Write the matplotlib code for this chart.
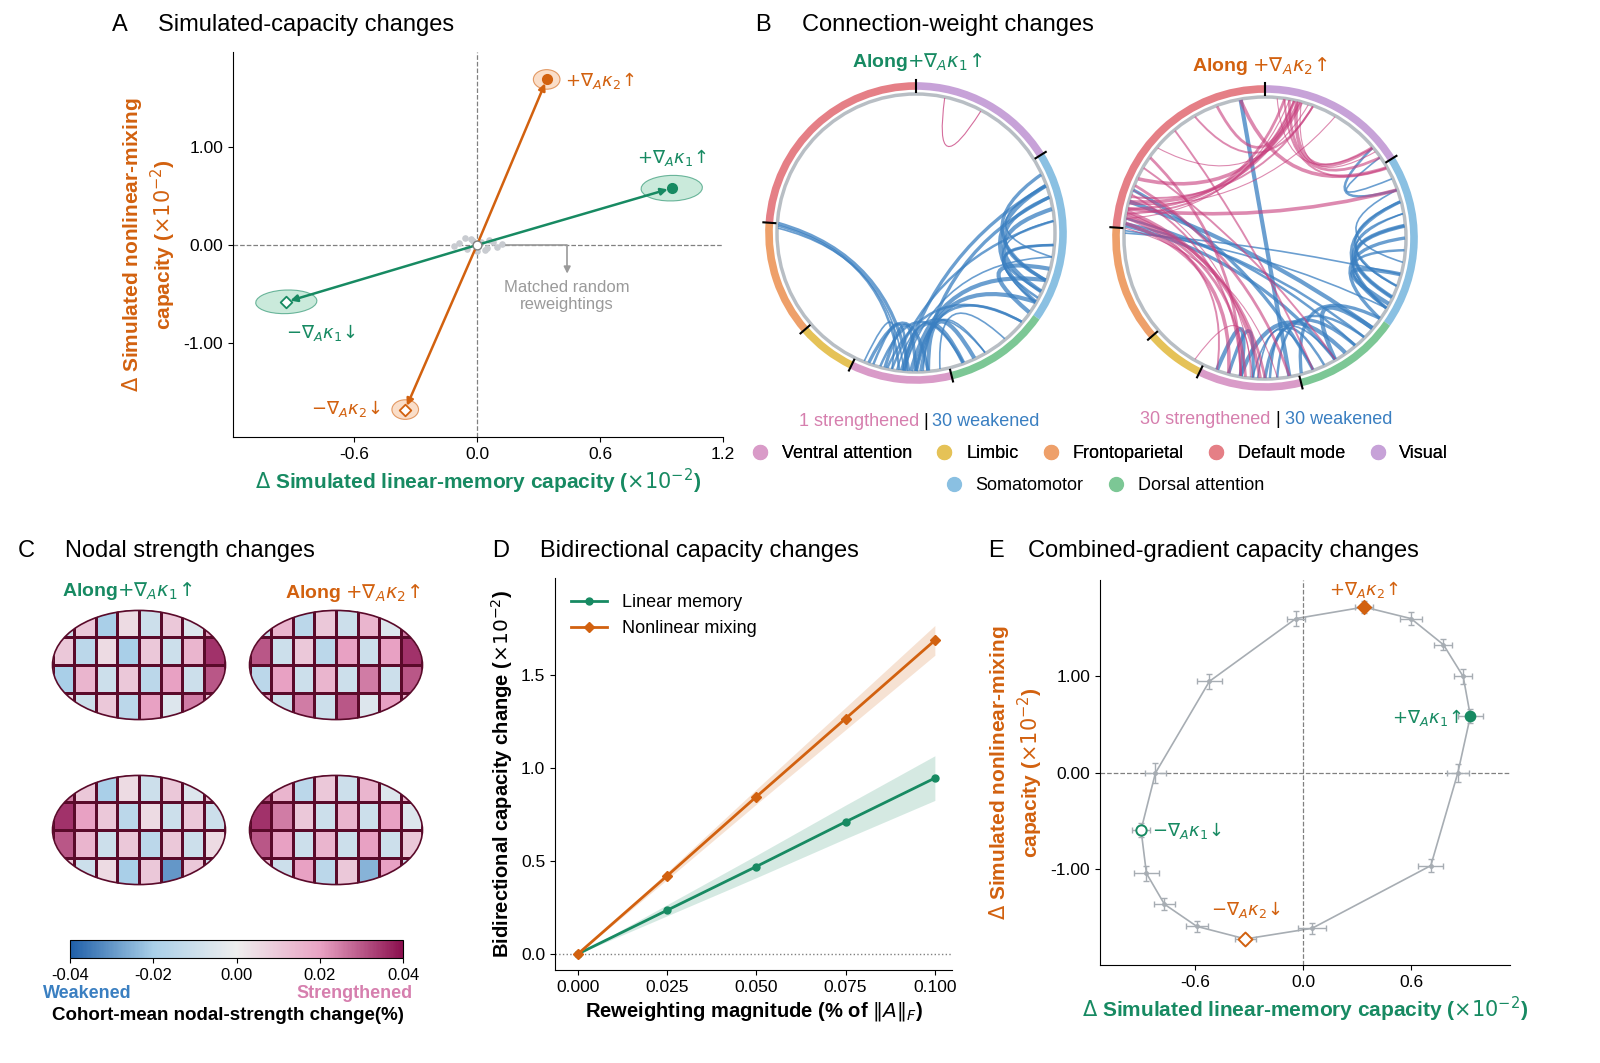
import numpy as np
import matplotlib
matplotlib.use("Agg")
import matplotlib.pyplot as plt
from matplotlib.patches import Ellipse, Arc, PathPatch
from matplotlib.path import Path
from matplotlib.colors import LinearSegmentedColormap
from matplotlib.lines import Line2D

plt.rcParams['font.family'] = ['Liberation Sans', 'DejaVu Sans']
GREEN = '#178a62'; ORANGE = '#d2610f'; GRAY = '#9aa0a6'
PINK = '#d67fae'; BLUE = '#3a7fc1'

# ---------------- data ----------------
A_labels = ['+k1', '-k1', '+k2', '-k2']
A_x = [0.95, -0.93, 0.34, -0.35]
A_y = [0.58, -0.58, 1.69, -1.68]
rand_x = [0.02, -0.05, 0.06, -0.09, 0.1, -0.03, 0.04, -0.11, 0.08, 0.0, -0.06, 0.12, -0.02, 0.05]
rand_y = [0.03, -0.04, 0.05, 0.02, -0.02, 0.06, -0.05, -0.01, 0.03, -0.06, 0.07, 0.01, 0.04, -0.03]

modules = ['Visual', 'Somatomotor', 'Dorsal attention', 'Ventral attention', 'Limbic', 'Frontoparietal', 'Default mode']
mod_colors = ['#c7a2d8', '#8ac0e2', '#7cc795', '#d99bc8', '#e5c257', '#eea06a', '#e57f86']
mod_bounds = [90, 32, -35, -76, -116, -139, -184, -270]

left_weak = [(178,-95),(177,-97),(176,-93),(-92,-20),(-95,-10),(-100,5),(-88,15),(-90,-30),(-98,-60),(-105,-70),
             (-110,-85),(-85,-65),(-80,-50),(-102,-40),(-96,20),(-25,10),(-30,5),(-28,-5),(-20,15),(-15,-35),
             (-10,20),(-5,-25),(25,-20),(20,-30),(-100,-112),(-94,-108),(-90,-103),(-70,-95),(-60,-87),(-40,-90)]
left_strong = [(78,62)]
right_strong = [(172,80),(170,78),(168,82),(165,76),(160,-95),(162,-100),(170,-90),(174,-105),(176,-85),(150,-60),
                (145,-100),(168,20),(166,60),(163,70),(158,-80),(155,75),(140,72),(120,70),(110,78),(100,30),
                (85,40),(82,30),(80,35),(77,40),(75,38),(172,-110),(171,-98),(169,-92),(-120,-96),(130,-70)]
right_weak = [(-20,10),(-25,5),(-30,15),(-15,-28),(-10,20),(-5,-30),(0,-35),(5,-25),(10,-30),(15,-20),
              (-50,-90),(-55,-100),(-60,-95),(-45,-85),(-95,-105),(-100,-110),(-70,-93),(-65,-88),(175,-60),(165,-40),
              (178,-15),(174,-45),(160,-70),(100,-80),(25,35),(20,40),(-35,-75),(-40,-60),(177,-30),(172,-50)]

brain_vals = [
    np.array([[0.005,-0.01,0.01,-0.015,0.02,-0.005,0.025,0.01],
              [-0.02,0.015,-0.01,0.01,-0.015,0.02,-0.01,0.03],
              [0.01,-0.015,0.005,-0.02,0.01,-0.01,0.015,0.035],
              [-0.01,0.01,-0.02,0.005,-0.01,0.01,-0.005,0.02]]),
    np.array([[0.02,-0.01,0.025,-0.01,0.03,-0.005,0.02,0.015],
              [-0.015,0.02,-0.01,0.015,-0.01,0.025,-0.01,0.03],
              [0.03,-0.01,0.01,-0.015,0.02,-0.01,0.02,0.035],
              [-0.01,0.015,-0.015,0.01,-0.01,0.015,-0.005,0.025]]),
    np.array([[0.01,-0.01,0.005,-0.02,0.01,-0.03,0.01,-0.01],
              [0.03,0.015,-0.01,0.01,-0.015,0.01,-0.01,0.005],
              [0.035,0.02,0.01,-0.015,0.005,-0.01,0.01,-0.01],
              [0.025,0.01,-0.02,0.005,-0.01,0.01,-0.005,0.01]]),
    np.array([[0.015,-0.01,0.02,-0.015,0.01,-0.025,0.02,-0.01],
              [0.03,0.02,-0.01,0.015,-0.01,0.02,-0.01,0.01],
              [0.035,0.025,0.01,-0.01,0.015,-0.01,0.02,-0.005],
              [0.03,0.015,-0.015,0.01,-0.01,0.015,-0.005,0.015]])]

D_x = [0, 0.025, 0.05, 0.075, 0.1]
D_lin = [0, 0.235, 0.47, 0.71, 0.945]
D_lin_band = [0, 0.03, 0.06, 0.09, 0.12]
D_non = [0, 0.42, 0.845, 1.265, 1.685]
D_non_band = [0, 0.02, 0.04, 0.06, 0.08]

E_x = [0.34, 0.60, 0.78, 0.89, 0.93, 0.86, 0.71, 0.05, -0.32, -0.59, -0.77, -0.87, -0.90, -0.82, -0.52, -0.04]
E_y = [1.72, 1.60, 1.33, 1.00, 0.59, 0.00, -0.96, -1.61, -1.72, -1.59, -1.36, -1.04, -0.59, 0.00, 0.95, 1.60]
E_xerr = [0.05, 0.06, 0.05, 0.05, 0.07, 0.06, 0.07, 0.08, 0.06, 0.06, 0.06, 0.07, 0.05, 0.06, 0.07, 0.05]
E_yerr = [0.06, 0.07, 0.06, 0.08, 0.07, 0.09, 0.07, 0.06, 0.05, 0.06, 0.06, 0.08, 0.07, 0.1, 0.08, 0.08]

# ---------------- figure ----------------
fig = plt.figure(figsize=(16, 10.63), dpi=100)
def rect(l, t, r, b):
    return [l/1600, 1-b/1063, (r-l)/1600, (b-t)/1063]
def ftext(x, y, s, **kw):
    fig.text(x/1600, 1-y/1063, s, **kw)

# ---- Panel A ----
ax = fig.add_axes(rect(233, 52, 723, 437))
ax.set_xlim(-1.19, 1.2); ax.set_ylim(-1.96, 1.97)
for s in ['top', 'right']: ax.spines[s].set_visible(False)
ax.axhline(0, color='gray', ls='--', lw=0.9); ax.axvline(0, color='gray', ls='--', lw=0.9)
ax.scatter(rand_x, rand_y, s=14, color='#c8cbd0', zorder=2)
cols = [GREEN, GREEN, ORANGE, ORANGE]
fills = ['#a8dcc4', '#a8dcc4', '#f7c8a6', '#f7c8a6']
ells = [(0.3, 0.26, 10), (0.3, 0.24, 10), (0.13, 0.2, 0), (0.13, 0.2, 0)]
for x, y, c, f, e, i in zip(A_x, A_y, cols, fills, ells, range(4)):
    ax.add_patch(Ellipse((x, y), e[0], e[1], angle=e[2], facecolor=f, edgecolor=c, alpha=0.6, lw=0.8, zorder=1))
    ax.annotate('', xy=(x, y), xytext=(0, 0), arrowprops=dict(arrowstyle='-|>', color=c, lw=1.8, mutation_scale=10, shrinkB=3), zorder=3)
    mk = 'o' if i in (0, 2) else 'D'
    ax.scatter([x], [y], marker=mk, s=45 if mk == 'o' else 35, facecolor=c if mk == 'o' else 'white', edgecolor=c, lw=1.3, zorder=4)
ax.scatter([0], [0], s=40, facecolor='white', edgecolor='gray', zorder=5)
ax.text(0.78, 0.84, r'$+\nabla_A\kappa_1\!\uparrow$', color=GREEN, fontsize=13)
ax.text(-0.93, -0.95, r'$-\nabla_A\kappa_1\!\downarrow$', color=GREEN, fontsize=13)
ax.text(0.43, 1.62, r'$+\nabla_A\kappa_2\!\uparrow$', color=ORANGE, fontsize=13)
ax.text(-0.81, -1.73, r'$-\nabla_A\kappa_2\!\downarrow$', color=ORANGE, fontsize=13)
ax.plot([0.14, 0.44, 0.44], [0, 0, -0.25], color='#9a9a9a', lw=1.2)
ax.annotate('', xy=(0.44, -0.32), xytext=(0.44, -0.2), arrowprops=dict(arrowstyle='-|>', color='#9a9a9a', lw=1.2))
ax.text(0.44, -0.52, 'Matched random\nreweightings', color='#9a9a9a', ha='center', va='center', fontsize=12)
ax.set_xticks([-0.6, 0, 0.6, 1.2]); ax.set_xticklabels(['-0.6', '0.0', '0.6', '1.2'])
ax.set_yticks([-1, 0, 1]); ax.set_yticklabels(['-1.00', '0.00', '1.00'])
ax.tick_params(labelsize=12.5)
ax.set_xlabel(r'$\Delta$ Simulated linear-memory capacity ($\times10^{-2}$)', color=GREEN, fontsize=15, fontweight='bold')
ax.set_ylabel('$\\Delta$ Simulated nonlinear-mixing\ncapacity ($\\times10^{-2}$)', color=ORANGE, fontsize=15, fontweight='bold')
ftext(112, 25, 'A', fontsize=17, va='center'); ftext(158, 25, 'Simulated-capacity changes', fontsize=17, va='center')

# ---- Panel B ----
axb = fig.add_axes(rect(740, 60, 1440, 410))
axb.set_xlim(740, 1440); axb.set_ylim(1063-410, 1063-60); axb.set_aspect('equal'); axb.axis('off')
def chord(cx, cy, r, a1, a2, color, lw, alpha):
    t1, t2 = np.radians(a1), np.radians(a2)
    p1 = np.array([cx + r*np.cos(t1), cy + r*np.sin(t1)])
    p2 = np.array([cx + r*np.cos(t2), cy + r*np.sin(t2)])
    mid = (p1 + p2)/2; c = np.array([cx, cy])
    ctrl = c + (mid - c)*0.35
    path = Path([p1, ctrl, p2], [Path.MOVETO, Path.CURVE3, Path.CURVE3])
    axb.add_patch(PathPatch(path, fill=False, edgecolor=color, lw=lw, alpha=alpha))
def wheel(cx, cy, r, weak, strong, salpha):
    axb.add_patch(plt.Circle((cx, 1063-cy), r-6, fill=False, edgecolor='#b8bec4', lw=2.5))
    for k in range(7):
        axb.add_patch(Arc((cx, 1063-cy), 2*r+4, 2*r+4, theta1=mod_bounds[k+1], theta2=mod_bounds[k], color=mod_colors[k], lw=5.5))
        t = np.radians(mod_bounds[k])
        if k != 2:
            axb.plot([cx+(r-4)*np.cos(t), cx+(r+8)*np.cos(t)], [1063-cy+(r-4)*np.sin(t), 1063-cy+(r+8)*np.sin(t)], color='k', lw=1.5)
    for i, (a1, a2) in enumerate(weak):
        chord(cx, 1063-cy, r-7, a1, a2, BLUE, 1.2 + (i % 4)*0.6, 0.75)
    for i, (a1, a2) in enumerate(strong):
        chord(cx, 1063-cy, r-7, a1, a2, '#c73d7c', 0.8 + (i % 4)*0.6, salpha)
wheel(916, 233, 145, left_weak, left_strong, 0.75)
wheel(1265, 238, 147, right_weak, right_strong, 0.6)
ftext(852, 62, r'Along$+\nabla_A\kappa_1\!\uparrow$', color=GREEN, fontsize=14, fontweight='bold', va='center')
ftext(1192, 66, r'Along $+\nabla_A\kappa_2\!\uparrow$', color=ORANGE, fontsize=14, fontweight='bold', va='center')
ftext(919, 421, '1 strengthened', color=PINK, fontsize=13, ha='right', va='center')
ftext(926, 421, '|', fontsize=13, ha='center', va='center')
ftext(932, 421, '30 weakened', color=BLUE, fontsize=13, ha='left', va='center')
ftext(1270, 420, '30 strengthened', color=PINK, fontsize=13, ha='right', va='center')
ftext(1278, 420, '|', fontsize=13, ha='center', va='center')
ftext(1285, 420, '30 weakened', color=BLUE, fontsize=13, ha='left', va='center')
order1 = [3, 4, 5, 6, 0]; order2 = [1, 2]
h1 = [Line2D([], [], marker='o', ls='', color=mod_colors[k], markersize=10) for k in order1]
h2 = [Line2D([], [], marker='o', ls='', color=mod_colors[k], markersize=10) for k in order2]
l1 = fig.legend(h1, [modules[k] for k in order1], loc='center', bbox_to_anchor=(1095/1600, 1-454/1063), ncol=5, frameon=False, fontsize=13, handletextpad=0.2, columnspacing=0.8)
fig.legend(h2, [modules[k] for k in order2], loc='center', bbox_to_anchor=(1100/1600, 1-486/1063), ncol=2, frameon=False, fontsize=13, handletextpad=0.2, columnspacing=0.8)
fig.add_artist(l1)
ftext(755, 25, 'B', fontsize=17, va='center'); ftext(802, 25, 'Connection-weight changes', fontsize=17, va='center')

# ---- Panel C ----
cmap = LinearSegmentedColormap.from_list('nod', ['#1f5fa8', '#a9cfe8', '#eeeeee', '#e9a3c4', '#8b0f4e'])
centers = [(139, 665), (336, 665), (139, 830), (336, 830)]
for (cx, cy), vals in zip(centers, brain_vals):
    axc = fig.add_axes(rect(cx-92, cy-62, cx+92, cy+62))
    axc.set_xlim(0, 1); axc.set_ylim(0, 1); axc.axis('off')
    xs = np.linspace(0.03, 0.97, vals.shape[1]+1); ys = np.linspace(0.05, 0.95, vals.shape[0]+1)
    m = axc.pcolormesh(xs, ys, vals, cmap=cmap, vmin=-0.04, vmax=0.04, edgecolors='#5a0a2a', linewidth=1.0)
    ell = Ellipse((0.5, 0.5), 0.94, 0.88, transform=axc.transData, facecolor='none', edgecolor='#5a0a2a', lw=1.2)
    axc.add_patch(ell); m.set_clip_path(ell)
ftext(62, 591, r'Along$+\nabla_A\kappa_1\!\uparrow$', color=GREEN, fontsize=14, fontweight='bold', va='center')
ftext(285, 593, r'Along $+\nabla_A\kappa_2\!\uparrow$', color=ORANGE, fontsize=14, fontweight='bold', va='center')
cax = fig.add_axes(rect(70, 940, 403, 958))
cb = fig.colorbar(matplotlib.cm.ScalarMappable(norm=matplotlib.colors.Normalize(-0.04, 0.04), cmap=cmap), cax=cax, orientation='horizontal')
cb.set_ticks([-0.04, -0.02, 0, 0.02, 0.04]); cb.set_ticklabels(['-0.04', '-0.02', '0.00', '0.02', '0.04'])
cax.tick_params(labelsize=12); cb.outline.set_linewidth(0.8)
ftext(87, 993, 'Weakened', color=BLUE, fontsize=13, fontweight='bold', ha='center', va='center')
ftext(355, 993, 'Strengthened', color=PINK, fontsize=13, fontweight='bold', ha='center', va='center')
ftext(228, 1015, 'Cohort-mean nodal-strength change(%)', fontsize=13.5, fontweight='bold', ha='center', va='center')
ftext(18, 551, 'C', fontsize=17, va='center'); ftext(65, 551, 'Nodal strength changes', fontsize=17, va='center')

# ---- Panel D ----
axd = fig.add_axes(rect(555, 578, 952, 970))
axd.set_xlim(-0.0064, 0.1048); axd.set_ylim(-0.086, 2.02)
for s in ['top', 'right']: axd.spines[s].set_visible(False)
axd.axhline(0, color='gray', ls=':', lw=1)
ln = np.array(D_lin); lb = np.array(D_lin_band); nn = np.array(D_non); nb = np.array(D_non_band)
axd.fill_between(D_x, ln-lb, ln+lb, color=GREEN, alpha=0.18, lw=0)
axd.fill_between(D_x, nn-nb, nn+nb, color=ORANGE, alpha=0.18, lw=0)
axd.plot(D_x, ln, color=GREEN, lw=2, marker='o', ms=5, label='Linear memory')
axd.plot(D_x, nn, color=ORANGE, lw=2, marker='D', ms=5, label='Nonlinear mixing')
axd.set_xticks(D_x); axd.set_xticklabels(['0.000', '0.025', '0.050', '0.075', '0.100'])
axd.set_yticks([0, 0.5, 1.0, 1.5])
axd.tick_params(labelsize=12.5)
axd.legend(loc='upper left', frameon=False, fontsize=13, bbox_to_anchor=(0.0, 1.0))
axd.set_xlabel(r'Reweighting magnitude (% of $\|A\|_F$)', fontsize=14.5, fontweight='bold')
axd.set_ylabel(r'Bidirectional capacity change ($\times10^{-2}$)', fontsize=14.5, fontweight='bold')
ftext(492, 551, 'D', fontsize=17, va='center'); ftext(540, 551, 'Bidirectional capacity changes', fontsize=17, va='center')

# ---- Panel E ----
axe = fig.add_axes(rect(1100, 580, 1510, 965))
axe.set_xlim(-1.128, 1.15); axe.set_ylim(-1.99, 2.0)
for s in ['top', 'right']: axe.spines[s].set_visible(False)
axe.axhline(0, color='gray', ls='--', lw=0.9); axe.axvline(0, color='gray', ls='--', lw=0.9)
axe.plot(E_x + E_x[:1], E_y + E_y[:1], color='#a7adb3', lw=1.2, zorder=1)
axe.errorbar(E_x, E_y, xerr=E_xerr, yerr=E_yerr, fmt='o', ms=2.5, color='#a7adb3', ecolor='#a7adb3', capsize=2, lw=1, zorder=2)
axe.scatter([E_x[4]], [E_y[4]], marker='o', s=55, color=GREEN, zorder=4)
axe.scatter([E_x[12]], [E_y[12]], marker='o', s=55, facecolor='white', edgecolor=GREEN, lw=1.4, zorder=4)
axe.scatter([E_x[0]], [E_y[0]], marker='D', s=50, color=ORANGE, zorder=4)
axe.scatter([E_x[8]], [E_y[8]], marker='D', s=50, facecolor='white', edgecolor=ORANGE, lw=1.4, zorder=4)
axe.text(0.88, 0.57, r'$+\nabla_A\kappa_1\!\uparrow$', color=GREEN, fontsize=13, ha='right', va='center')
axe.text(-0.84, -0.6, r'$-\nabla_A\kappa_1\!\downarrow$', color=GREEN, fontsize=13, ha='left', va='center')
axe.text(0.34, 1.9, r'$+\nabla_A\kappa_2\!\uparrow$', color=ORANGE, fontsize=13, ha='center', va='center')
axe.text(-0.32, -1.42, r'$-\nabla_A\kappa_2\!\downarrow$', color=ORANGE, fontsize=13, ha='center', va='center')
axe.set_xticks([-0.6, 0, 0.6]); axe.set_xticklabels(['-0.6', '0.0', '0.6'])
axe.set_yticks([-1, 0, 1]); axe.set_yticklabels(['-1.00', '0.00', '1.00'])
axe.tick_params(labelsize=12.5)
axe.set_xlabel(r'$\Delta$ Simulated linear-memory capacity ($\times10^{-2}$)', color=GREEN, fontsize=15, fontweight='bold')
axe.set_ylabel('$\\Delta$ Simulated nonlinear-mixing\ncapacity ($\\times10^{-2}$)', color=ORANGE, fontsize=15, fontweight='bold')
ftext(988, 551, 'E', fontsize=17, va='center'); ftext(1028, 551, 'Combined-gradient capacity changes', fontsize=17, va='center')

fig.savefig('out.png', dpi=100, facecolor='white')
